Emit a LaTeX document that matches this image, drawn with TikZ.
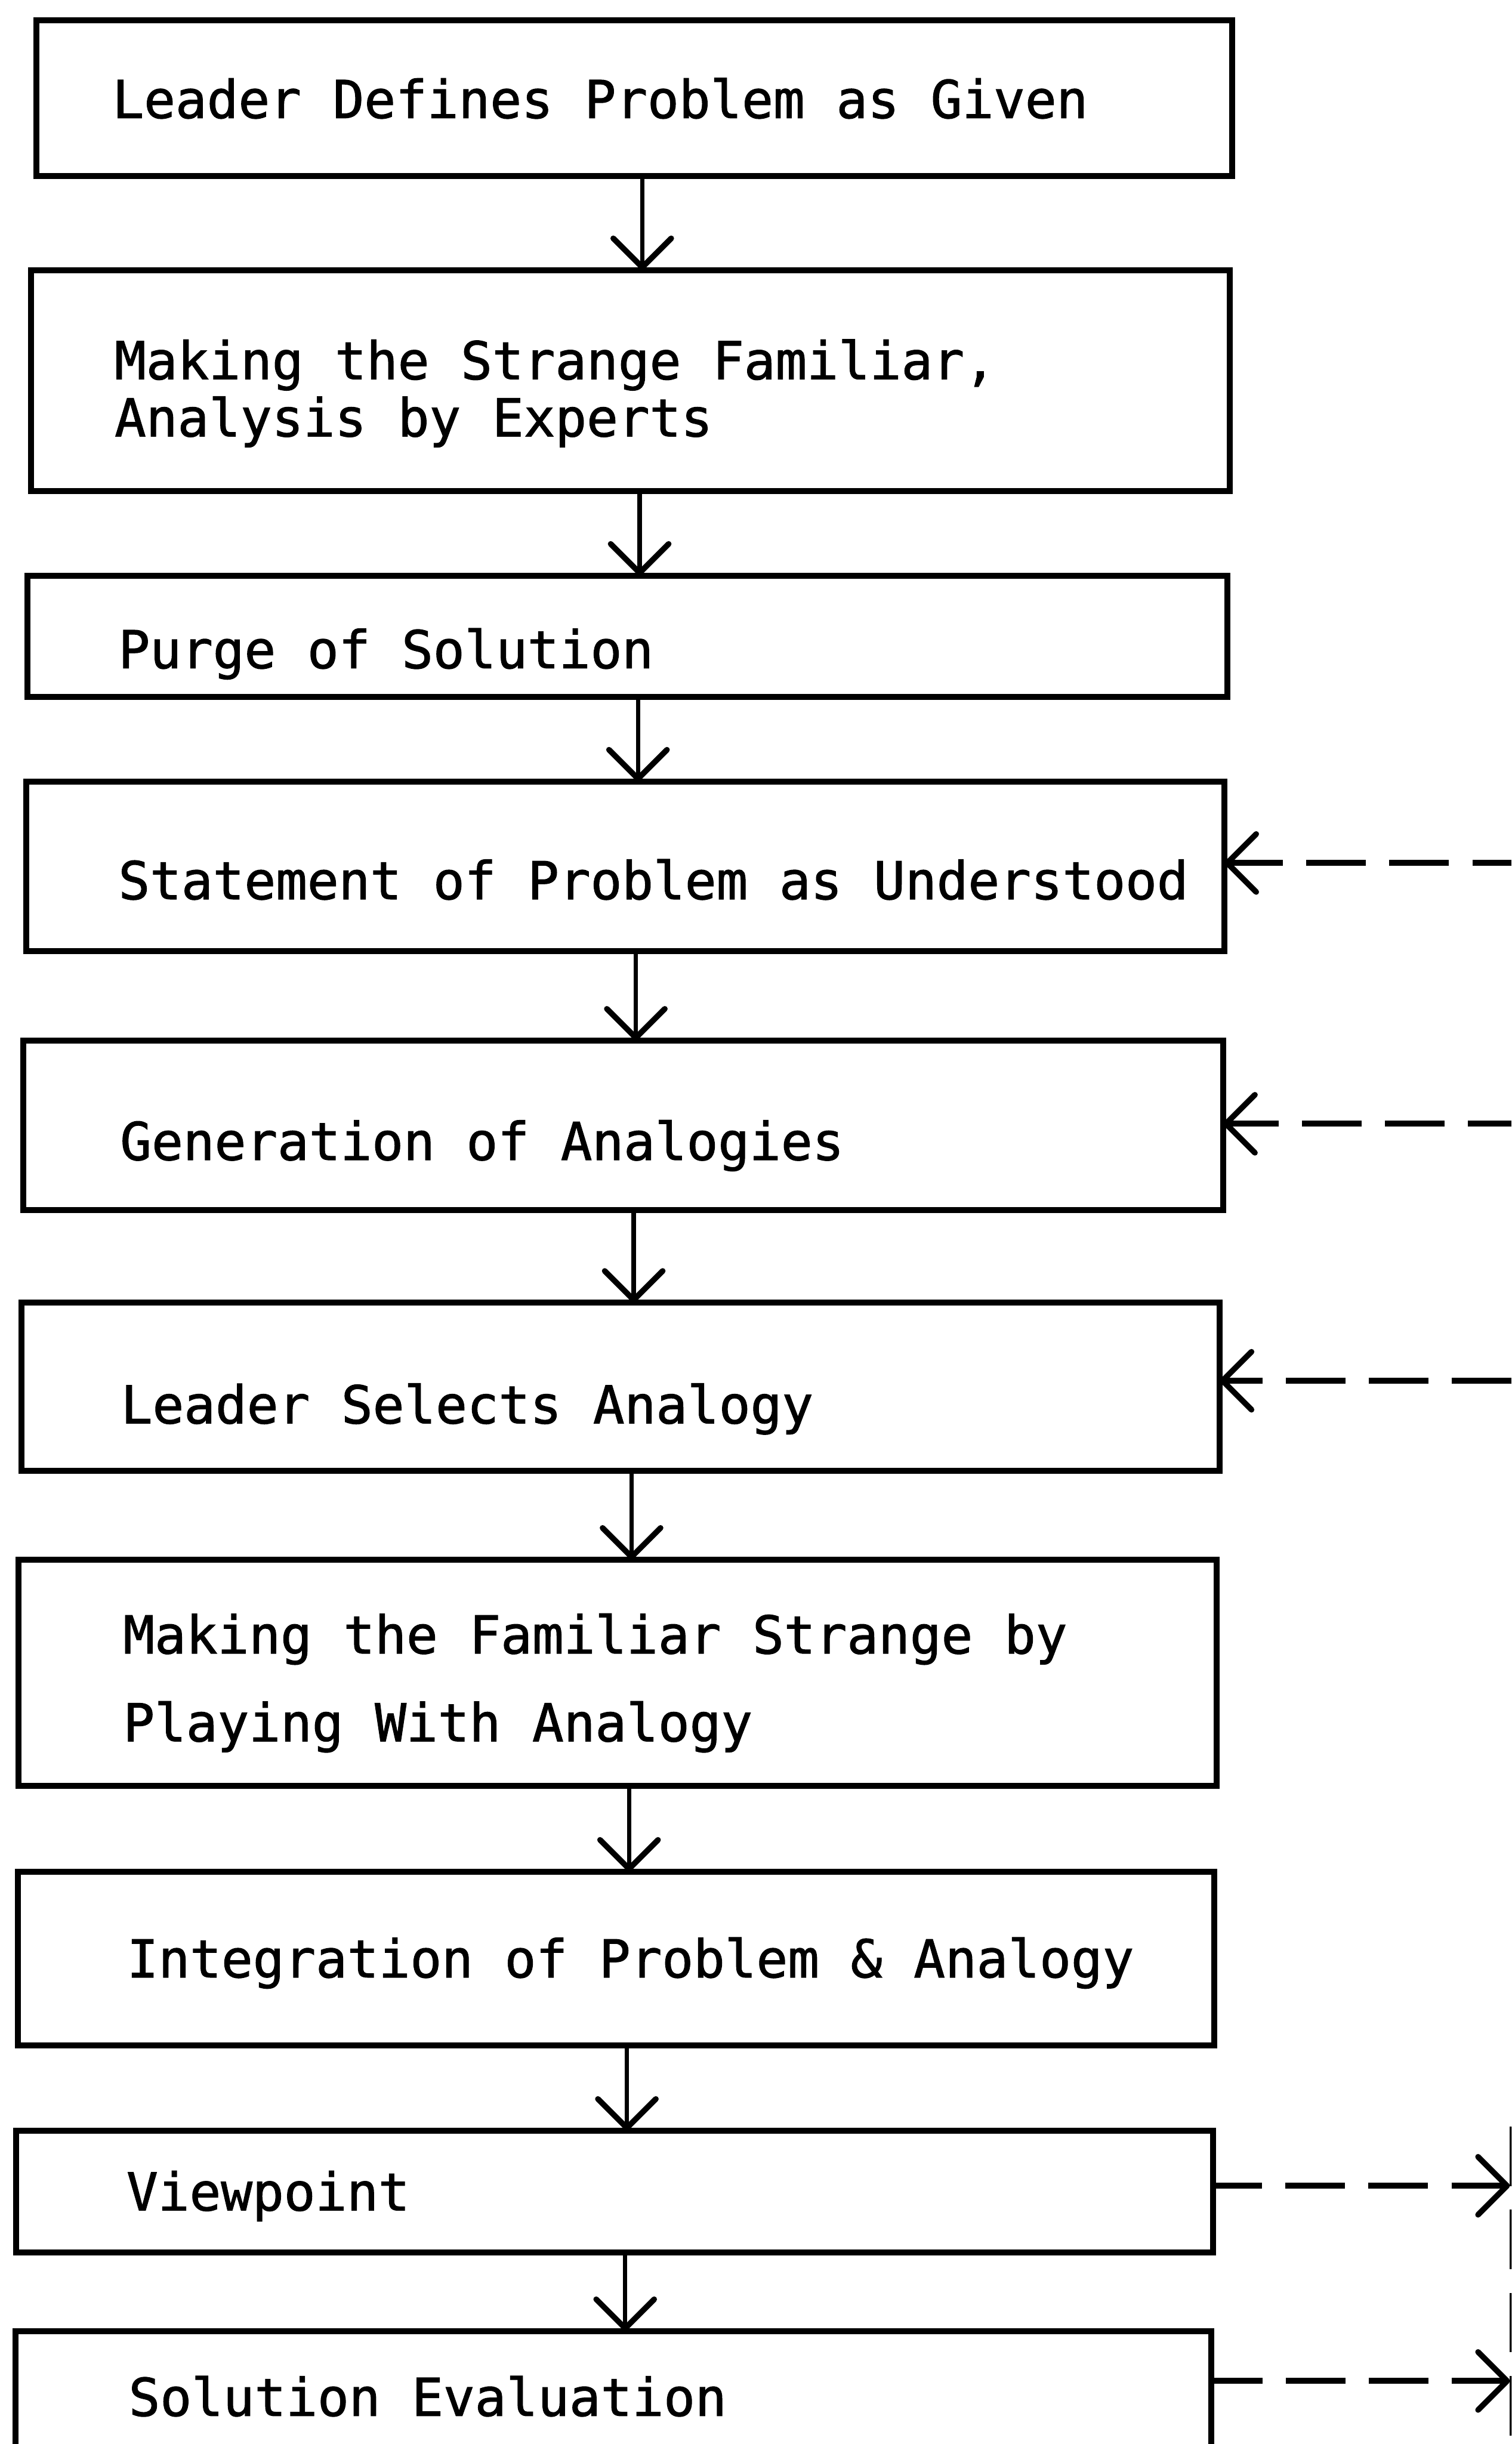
\documentclass[tikz,border=0pt]{standalone}
\usepackage{fontspec}
\setmonofont[FakeBold=1.3]{DejaVu Sans Mono}
\usetikzlibrary{arrows.meta}
\begin{document}
\begin{tikzpicture}[x=1cm,y=1cm,
  stage/.style={draw, line width=4pt, rectangle, inner sep=0pt, outer sep=0pt, anchor=north west},
  boxtext/.style={anchor=base west, inner sep=0pt, outer sep=0pt, font=\fontsize{34.9pt}{40pt}\ttfamily},
  barb/.style={-{Straight Barb[length=0.68cm,width=1.36cm,line width=3.8pt,round]}},
  flow/.style={barb, line width=2.9pt},
  fbline/.style={line width=4pt, dash pattern=on 1.4cm off 0.55cm},
  fbarrow/.style={fbline, barb},
]
\useasboundingbox (0,0) rectangle (35.47,-57.35);
\clip (0,0) rectangle (35.47,-57.35);

% the ten stages of the session
\node[stage, minimum width=28.05cm, minimum height=3.66cm] (b1) at (0.86,-0.47) {};
\node[stage, minimum width=28.12cm, minimum height=5.18cm] (b2) at (0.73,-6.34) {};
\node[stage, minimum width=28.15cm, minimum height=2.85cm] (b3) at (0.65,-13.51) {};
\node[stage, minimum width=28.12cm, minimum height=3.98cm] (b4) at (0.61,-18.34) {};
\node[stage, minimum width=28.15cm, minimum height=3.98cm] (b5) at (0.55,-24.42) {};
\node[stage, minimum width=28.12cm, minimum height=3.94cm] (b6) at (0.50,-30.57) {};
\node[stage, minimum width=28.11cm, minimum height=5.30cm] (b7) at (0.44,-36.60) {};
\node[stage, minimum width=28.07cm, minimum height=4.08cm] (b8) at (0.42,-43.92) {};
\node[stage, minimum width=28.08cm, minimum height=2.86cm] (b9) at (0.38,-50.00) {};
\node[stage, minimum width=28.06cm, minimum height=2.85cm] (b10) at (0.36,-54.70) {};

% stage texts
\node[boxtext] (t1) at (2.64,-2.77) {Leader Defines Problem as Given};
\node[boxtext] (t2a) at (2.69,-8.90) {Making the Strange Familiar,};
\node[boxtext] (t2b) at (2.69,-10.24) {Analysis by Experts};
\node[boxtext] (t3) at (2.78,-15.68) {Purge of Solution};
\node[boxtext] (t4) at (2.78,-21.10) {Statement of Problem as Understood};
\node[boxtext] (t5) at (2.82,-27.22) {Generation of Analogies};
\node[boxtext] (t6) at (2.84,-33.40) {Leader Selects Analogy};
\node[boxtext] (t7a) at (2.89,-38.80) {Making the Familiar Strange by};
\node[boxtext] (t7b) at (2.89,-40.86) {Playing With Analogy};
\node[boxtext] (t8) at (2.98,-46.40) {Integration of Problem \& Analogy};
\node[boxtext] (t9) at (2.97,-51.87) {Viewpoint};
\node[boxtext] (t10) at (3.02,-56.69) {Solution Evaluation};

% columns of the downward connectors
\coordinate (x1) at (15.07,0);
\coordinate (x2) at (15.01,0);
\coordinate (x3) at (14.97,0);
\coordinate (x4) at (14.92,0);
\coordinate (x5) at (14.87,0);
\coordinate (x6) at (14.82,0);
\coordinate (x7) at (14.76,0);
\coordinate (x8) at (14.71,0);
\coordinate (x9) at (14.67,0);

\draw[flow] (b1.south -| x1) -- (b2.north -| x1);
\draw[flow] (b2.south -| x2) -- (b3.north -| x2);
\draw[flow] (b3.south -| x3) -- (b4.north -| x3);
\draw[flow] (b4.south -| x4) -- (b5.north -| x4);
\draw[flow] (b5.south -| x5) -- (b6.north -| x5);
\draw[flow] (b6.south -| x6) -- (b7.north -| x6);
\draw[flow] (b7.south -| x7) -- (b8.north -| x7);
\draw[flow] (b8.south -| x8) -- (b9.north -| x8);
\draw[flow] (b9.south -| x9) -- (b10.north -| x9);

% feedback loop on the right
\coordinate (in4) at (35.47,-20.25);
\coordinate (in5) at (35.47,-26.37);
\coordinate (in6) at (35.47,-32.40);
\coordinate (out9) at (35.43,-51.29);
\coordinate (out10) at (35.43,-55.87);
\coordinate (rt) at (35.50,-49.90);
\coordinate (rb) at (35.50,-57.60);

\draw[fbarrow, dash phase=0.48cm] (in4) -- (b4.east |- in4);
\draw[fbarrow, dash phase=0.38cm] (in5) -- (b5.east |- in5);
\draw[fbarrow] (in6) -- (b6.east |- in6);
\draw[fbarrow, dash phase=0.25cm] (b9.east |- out9) -- (out9);
\draw[fbarrow, dash phase=0.20cm] (b10.east |- out10) -- (out10);
\draw[fbline] (rt) -- (rb);
\end{tikzpicture}
\end{document}
